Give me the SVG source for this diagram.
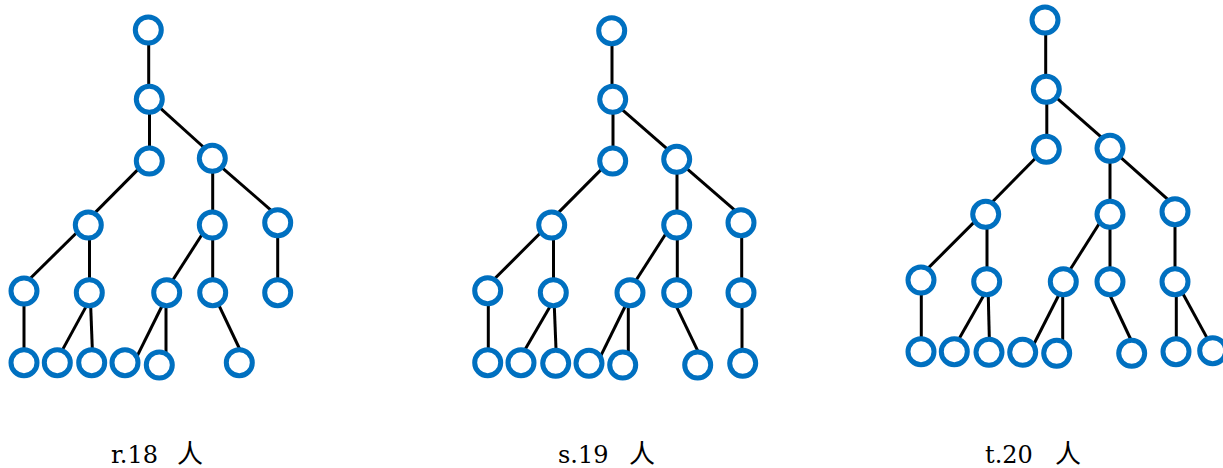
<svg xmlns="http://www.w3.org/2000/svg" width="1223" height="468" viewBox="0 0 1223 468">
  <style>
    .edge { stroke: #000; stroke-width: 3; fill: none; }
    .node circle { fill: #fff; stroke: #0070C0; stroke-width: 5; }
    .label { font-family: "DejaVu Serif", "Liberation Serif", serif; font-size: 24px; fill: #000; }
    .label .cjk { font-family: "Noto Sans CJK SC", sans-serif; font-size: 26px; }
  </style>
  <rect width="1223" height="468" fill="#fff"/>

  <!-- Tree r: 18 people -->
  <g id="edges-r" class="edge">
    <line x1="148.7" y1="30" x2="148.7" y2="99"/>
    <line x1="149.5" y1="99" x2="149.5" y2="161"/>
    <line x1="159.5" y1="107.3" x2="204.5" y2="148"/>
    <line x1="138.8" y1="168.6" x2="94.6" y2="213.1"/>
    <line x1="212.7" y1="158" x2="212.7" y2="225"/>
    <line x1="221.7" y1="167.3" x2="272.3" y2="211.3"/>
    <line x1="77.1" y1="232.2" x2="28.9" y2="279.8"/>
    <line x1="89.5" y1="225" x2="89.5" y2="292.7"/>
    <line x1="203.3" y1="232.5" x2="171.7" y2="281.8"/>
    <line x1="212.7" y1="225" x2="212.7" y2="292.7"/>
    <line x1="277.7" y1="223" x2="277.7" y2="292.7"/>
    <line x1="24" y1="291" x2="24" y2="362.7"/>
    <line x1="87.4" y1="304.1" x2="61.9" y2="350.9"/>
    <line x1="90.6" y1="304" x2="92.4" y2="351"/>
    <line x1="163" y1="304" x2="136.4" y2="357.7"/>
    <line x1="166" y1="293" x2="166" y2="354"/>
    <line x1="218" y1="303.3" x2="240.6" y2="351"/>
  </g>
  <g id="r-1" class="node"><circle cx="148.3" cy="30" r="13"/></g>
  <g id="r-2" class="node"><circle cx="149.3" cy="99.3" r="13"/></g>
  <g id="r-3" class="node"><circle cx="149.3" cy="161" r="13"/></g>
  <g id="r-4" class="node"><circle cx="212.3" cy="158.3" r="13"/></g>
  <g id="r-5" class="node"><circle cx="88.3" cy="225" r="13"/></g>
  <g id="r-6" class="node"><circle cx="212.3" cy="225" r="13"/></g>
  <g id="r-7" class="node"><circle cx="277.7" cy="222.7" r="13"/></g>
  <g id="r-8" class="node"><circle cx="24" cy="291" r="13"/></g>
  <g id="r-9" class="node"><circle cx="89.3" cy="292.7" r="13"/></g>
  <g id="r-10" class="node"><circle cx="166.7" cy="292.7" r="13"/></g>
  <g id="r-11" class="node"><circle cx="212.7" cy="292.7" r="13"/></g>
  <g id="r-12" class="node"><circle cx="277.7" cy="292.7" r="13"/></g>
  <g id="r-13" class="node"><circle cx="24" cy="362.7" r="13"/></g>
  <g id="r-14" class="node"><circle cx="57.3" cy="362.7" r="13"/></g>
  <g id="r-15" class="node"><circle cx="91.7" cy="362.7" r="13"/></g>
  <g id="r-16" class="node"><circle cx="125" cy="362.7" r="13"/></g>
  <g id="r-17" class="node"><circle cx="159.3" cy="365" r="13"/></g>
  <g id="r-18" class="node"><circle cx="239.3" cy="362.7" r="13"/></g>

  <!-- Tree s: 19 people -->
  <g id="edges-s" class="edge">
    <line x1="612" y1="30.7" x2="612" y2="99.3"/>
    <line x1="613" y1="99" x2="613" y2="161"/>
    <line x1="621" y1="108.7" x2="668" y2="149.7"/>
    <line x1="602.1" y1="168.6" x2="557.9" y2="213.1"/>
    <line x1="677" y1="159" x2="677" y2="225"/>
    <line x1="685.4" y1="167.3" x2="735" y2="210.3"/>
    <line x1="541.1" y1="232.2" x2="493.6" y2="279.8"/>
    <line x1="553.5" y1="225" x2="553.5" y2="292.7"/>
    <line x1="666.6" y1="232.5" x2="635.1" y2="281.8"/>
    <line x1="677.3" y1="225" x2="677.3" y2="292.7"/>
    <line x1="741.7" y1="223" x2="741.7" y2="292.7"/>
    <line x1="488.3" y1="290.7" x2="488.3" y2="362.7"/>
    <line x1="551.5" y1="304.1" x2="524.2" y2="350.9"/>
    <line x1="554.2" y1="303.7" x2="556.1" y2="351.3"/>
    <line x1="626.3" y1="304" x2="600.4" y2="356.7"/>
    <line x1="628.3" y1="292.7" x2="628.3" y2="355"/>
    <line x1="676" y1="305.6" x2="698.6" y2="352.7"/>
    <line x1="742" y1="292.7" x2="742" y2="363.3"/>
  </g>
  <g id="s-1" class="node"><circle cx="611.7" cy="30.7" r="13"/></g>
  <g id="s-2" class="node"><circle cx="612.7" cy="99.3" r="13"/></g>
  <g id="s-3" class="node"><circle cx="612.7" cy="161" r="13"/></g>
  <g id="s-4" class="node"><circle cx="676.7" cy="159.3" r="13"/></g>
  <g id="s-5" class="node"><circle cx="551.7" cy="225" r="13"/></g>
  <g id="s-6" class="node"><circle cx="676.7" cy="225" r="13"/></g>
  <g id="s-7" class="node"><circle cx="741" cy="222.7" r="13"/></g>
  <g id="s-8" class="node"><circle cx="487.7" cy="290.7" r="13"/></g>
  <g id="s-9" class="node"><circle cx="553.3" cy="292.7" r="13"/></g>
  <g id="s-10" class="node"><circle cx="630" cy="292.7" r="13"/></g>
  <g id="s-11" class="node"><circle cx="676.7" cy="292.7" r="13"/></g>
  <g id="s-12" class="node"><circle cx="741" cy="292.7" r="13"/></g>
  <g id="s-13" class="node"><circle cx="487.7" cy="362.7" r="13"/></g>
  <g id="s-14" class="node"><circle cx="521" cy="362.7" r="13"/></g>
  <g id="s-15" class="node"><circle cx="555.7" cy="363.3" r="13"/></g>
  <g id="s-16" class="node"><circle cx="589" cy="363.3" r="13"/></g>
  <g id="s-17" class="node"><circle cx="622.7" cy="365" r="13"/></g>
  <g id="s-18" class="node"><circle cx="697.7" cy="365" r="13"/></g>
  <g id="s-19" class="node"><circle cx="742.7" cy="363.3" r="13"/></g>

  <!-- Tree t: 20 people -->
  <g id="edges-t" class="edge">
    <line x1="1045.7" y1="20" x2="1045.7" y2="89.3"/>
    <line x1="1046.8" y1="89" x2="1046.8" y2="149"/>
    <line x1="1056" y1="97.3" x2="1103" y2="138.7"/>
    <line x1="1036.4" y1="157.2" x2="990.6" y2="203.8"/>
    <line x1="1110" y1="148" x2="1110" y2="214"/>
    <line x1="1119.5" y1="156.3" x2="1168.9" y2="200.3"/>
    <line x1="974.4" y1="221.9" x2="926.9" y2="269.4"/>
    <line x1="987" y1="214" x2="987" y2="281.7"/>
    <line x1="1099.9" y1="222.5" x2="1069.4" y2="270.8"/>
    <line x1="1110" y1="214" x2="1110" y2="282"/>
    <line x1="1175" y1="212" x2="1175" y2="282"/>
    <line x1="921.3" y1="280" x2="921.3" y2="352"/>
    <line x1="984.8" y1="293.4" x2="957.8" y2="340.9"/>
    <line x1="988.2" y1="293" x2="989.4" y2="341.3"/>
    <line x1="1059.7" y1="293.3" x2="1032.9" y2="346"/>
    <line x1="1062.7" y1="282" x2="1062.7" y2="342"/>
    <line x1="1109.4" y1="294" x2="1132" y2="342"/>
    <line x1="1176.3" y1="282" x2="1176.3" y2="352"/>
    <line x1="1181.3" y1="290.7" x2="1208.1" y2="339.9"/>
  </g>
  <g id="t-1" class="node"><circle cx="1045" cy="20" r="13"/></g>
  <g id="t-2" class="node"><circle cx="1046.3" cy="89.3" r="13"/></g>
  <g id="t-3" class="node"><circle cx="1046.3" cy="149.3" r="13"/></g>
  <g id="t-4" class="node"><circle cx="1110" cy="148.3" r="13"/></g>
  <g id="t-5" class="node"><circle cx="985.7" cy="214.3" r="13"/></g>
  <g id="t-6" class="node"><circle cx="1110" cy="214.3" r="13"/></g>
  <g id="t-7" class="node"><circle cx="1175" cy="211.7" r="13"/></g>
  <g id="t-8" class="node"><circle cx="921" cy="280" r="13"/></g>
  <g id="t-9" class="node"><circle cx="986.7" cy="281.7" r="13"/></g>
  <g id="t-10" class="node"><circle cx="1063.3" cy="281.7" r="13"/></g>
  <g id="t-11" class="node"><circle cx="1110" cy="281.7" r="13"/></g>
  <g id="t-12" class="node"><circle cx="1175" cy="281.7" r="13"/></g>
  <g id="t-13" class="node"><circle cx="921" cy="351.7" r="13"/></g>
  <g id="t-14" class="node"><circle cx="954.3" cy="351.7" r="13"/></g>
  <g id="t-15" class="node"><circle cx="989" cy="352.3" r="13"/></g>
  <g id="t-16" class="node"><circle cx="1022.7" cy="352.3" r="13"/></g>
  <g id="t-17" class="node"><circle cx="1056.7" cy="353.3" r="13"/></g>
  <g id="t-18" class="node"><circle cx="1131.7" cy="353.3" r="13"/></g>
  <g id="t-19" class="node"><circle cx="1176" cy="351.7" r="13"/></g>
  <g id="t-20" class="node"><circle cx="1212.7" cy="350.7" r="13"/></g>

  <!-- Captions -->
  <g id="captions" class="label">
    <text x="111" y="463">r.18<tspan class="cjk" x="177">人</tspan></text>
    <text x="558" y="463">s.19<tspan class="cjk" x="629">人</tspan></text>
    <text x="985" y="463">t.20<tspan class="cjk" x="1055">人</tspan></text>
  </g>
</svg>
